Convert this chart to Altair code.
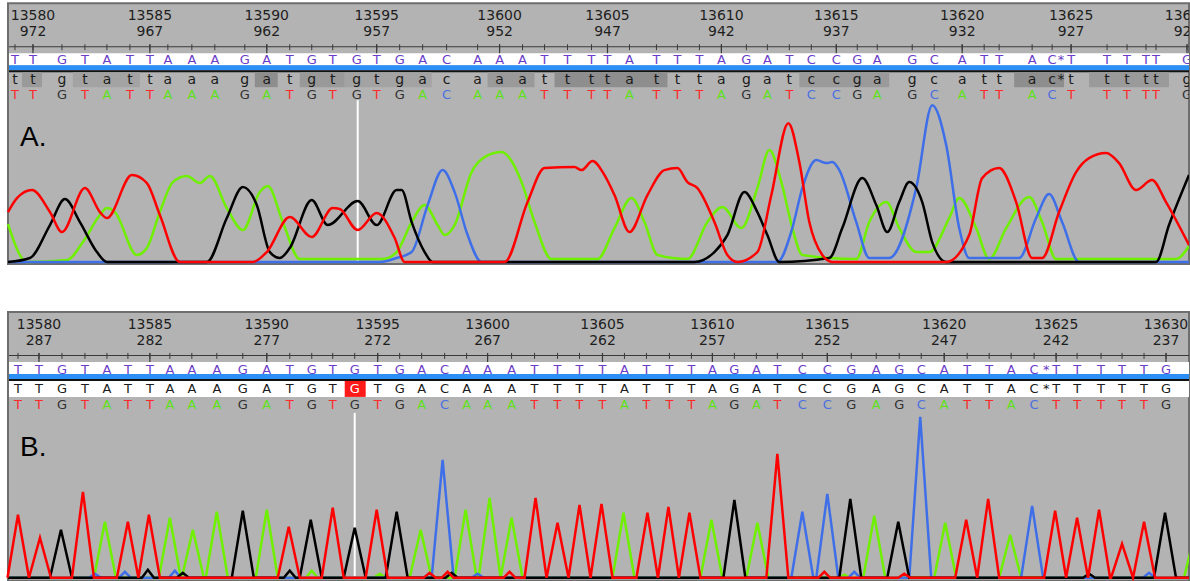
import altair as alt
import pandas as pd

# ---------------- data ----------------
SEQ = list("TTGTATTAAAGATGTGTGACAAATTTTATTTAGATCCGAGCATTACTTTTTG")  # 13579..13630
POS_A = [15, 33, 62, 85, 107, 130, 150, 168, 192, 215, 245, 267, 290, 312, 333, 357, 377, 400, 423, 447,
         478, 500, 523, 545, 568, 592, 608, 630, 657, 678, 700, 722, 747, 768, 790, 812, 837, 858, 878, 913,
         935, 963, 985, 1000, 1033, 1053, 1072, 1108, 1128, 1147, 1157, 1188]
POS_B = [18, 39, 62, 85, 107, 128, 150, 170, 192, 217, 243, 267, 290, 312, 333, 355, 378, 400, 422, 445,
         467, 488, 512, 535, 558, 580, 603, 625, 647, 670, 692, 713, 735, 757, 778, 803, 828, 852, 877, 900,
         922, 945, 968, 990, 1012, 1035, 1057, 1078, 1102, 1123, 1145, 1167]
RULER_TOP = [13580, 13585, 13590, 13595, 13600, 13605, 13610, 13615, 13620, 13625, 13630]
RULER_A = [972, 967, 962, 957, 952, 947, 942, 937, 932, 927, 922]
RULER_B = [287, 282, 277, 272, 267, 262, 257, 252, 247, 242, 237]
STAR_A = 1062
STAR_B = 1047
CURSOR_A = 358
CURSOR_B = 355
HIGHLIGHT_B = 15  # index of the highlighted G in panel B

# quality shading blocks in panel A second row (x from, x to, shade)
BLOCKS_A = [(22, 42, "#9a9a9a"), (73, 140, "#a3a3a3"), (255, 278, "#8e8e8e"), (300, 345, "#999999"),
            (345, 432, "#a3a3a3"), (488, 535, "#9a9a9a"), (555, 668, "#8e8e8e"), (800, 890, "#9a9a9a"),
            (1015, 1065, "#8e8e8e"), (1090, 1170, "#9a9a9a")]

# Panel A traces: (scan position, intensity) vertices
A_RED = [(8, 50), (17, 64), (32, 72), (50, 50), (62, 30), (85, 74), (100, 50), (107, 44), (132, 87), (147, 79),
         (160, 47), (180, 0), (253, 0), (267, 10), (290, 45), (312, 25), (333, 54), (340, 53), (358, 32),
         (377, 49), (395, 24), (405, 0), (505, 0), (528, 60), (545, 94), (575, 95), (582, 92), (593, 101),
         (605, 87), (615, 67), (630, 30), (648, 67), (665, 92), (678, 94), (688, 80), (698, 74), (715, 40),
         (728, 7), (738, 0), (758, 10), (772, 67), (789, 139), (800, 100), (810, 40), (823, 7), (833, 0),
         (947, 0), (970, 27), (983, 84), (1000, 94), (1017, 60), (1033, 4), (1043, 4), (1060, 50), (1077, 90),
         (1090, 104), (1107, 109), (1120, 99), (1137, 72), (1153, 82), (1167, 60), (1190, 17)]
A_GREEN = [(8, 38), (27, 0), (67, 2), (83, 20), (100, 47), (107, 54), (115, 50), (137, 7), (147, 14), (160, 50),
           (173, 80), (187, 86), (200, 79), (210, 86), (227, 54), (243, 32), (260, 70), (268, 76), (283, 40),
           (300, 3), (383, 3), (397, 10), (412, 40), (425, 57), (438, 37), (445, 27), (455, 37), (472, 90),
           (485, 105), (502, 110), (510, 104), (522, 80), (535, 40), (552, 3), (598, 3), (615, 34), (632, 64),
           (645, 40), (658, 7), (688, 3), (708, 40), (723, 55), (742, 34), (758, 74), (770, 112), (782, 80),
           (793, 34), (803, 7), (857, 3), (870, 40), (887, 60), (900, 34), (917, 10), (930, 10), (950, 44),
           (960, 64), (977, 34), (990, 3), (1007, 34), (1030, 65), (1043, 40), (1057, 3), (1177, 3), (1190, 16)]
A_BLACK = [(8, 0), (30, 4), (50, 37), (65, 63), (80, 40), (97, 10), (107, 0), (207, 0), (227, 44), (243, 75),
           (257, 57), (270, 10), (280, 4), (290, 14), (312, 62), (328, 37), (358, 61), (377, 37), (397, 72),
           (402, 72), (412, 40), (425, 10), (433, 0), (695, 0), (715, 10), (728, 27), (745, 70), (758, 50),
           (768, 27), (780, 0), (830, 4), (843, 34), (863, 84), (877, 57), (888, 30), (900, 60), (910, 80),
           (923, 60), (933, 20), (947, 0), (1157, 0), (1170, 37), (1190, 87)]
A_BLUE = [(8, 0), (380, 0), (397, 4), (412, 10), (428, 57), (443, 92), (455, 70), (468, 27), (482, 0), (778, 0),
          (793, 34), (803, 74), (817, 102), (827, 99), (833, 100), (840, 92), (857, 40), (870, 4), (890, 4),
          (917, 74), (933, 157), (947, 117), (960, 34), (970, 4), (1020, 4), (1037, 44), (1050, 68), (1063, 40),
          (1080, 0), (1190, 0)]

# Panel B peaks: (scan position, height)
B_RED = [(18, 63), (40, 40), (83, 86), (128, 56), (149, 63), (289, 51), (333, 70), (377, 68), (536, 80),
         (558, 55), (580, 73), (602, 74), (648, 65), (669, 71), (690, 65), (778, 124), (967, 58), (989, 79),
         (1056, 67), (1078, 60), (1100, 68), (1123, 34), (1145, 56)]
B_GREEN = [(105, 56), (170, 60), (193, 48), (217, 66), (267, 68), (421, 48), (466, 68), (490, 80), (512, 60),
           (624, 65), (712, 58), (758, 55), (875, 62), (946, 55), (1011, 43), (1196, 45)]
B_BLACK = [(61, 48), (243, 67), (311, 58), (355, 50), (397, 66), (735, 78), (851, 79), (899, 56), (1166, 65)]
B_BLUE = [(443, 118), (803, 66), (828, 84), (921, 161), (1033, 72)]
# small baseline bumps in panel B
B_RED_NOISE = [(430, 5), (448, 6), (510, 6), (825, 6), (905, 4)]
B_GREEN_NOISE = [(312, 7), (380, 4), (845, 3)]
B_BLACK_NOISE = [(148, 8), (183, 5), (290, 7), (452, 5), (1090, 4)]
B_BLUE_NOISE = [(95, 4), (125, 6), (175, 7), (478, 4), (855, 6), (1150, 5)]

TRACE_COL = {"A": "#6ef000", "C": "#3f6fe8", "G": "#000000", "T": "#ff0000"}
TEXT_COL = {"A": "#5fe01a", "C": "#4a6fe0", "G": "#303030", "T": "#ff2a2a"}
GRAY = "#b3b3b3"
W = 1190

xs = alt.Scale(domain=[0, W], nice=False, zero=False)
ONE = alt.Data(values=[{"k": 0}])


def box(x1, x2, y1, y2, **mk):
    return alt.Chart(ONE).mark_rect(**mk).encode(
        x=alt.value(x1), x2=alt.value(x2), y=alt.value(y1), y2=alt.value(y2))


def peaks_to_vertices(peaks):
    pts = [(8, 0)]
    for x, h, w in sorted(peaks):
        left = x - w
        if pts[-1][0] >= left:
            pts[-1] = ((pts[-1][0] + left) / 2.0, 0)
        else:
            pts.append((left, 0))
        pts.append((x, h))
        pts.append((x + w, 0))
    if pts[-1][0] < W:
        pts.append((W, 0))
    return pts


def texts(df, y, size, font="DejaVu Sans", **kw):
    return alt.Chart(df).mark_text(font=font, fontSize=size, baseline="middle", align="center",
                                   clip=True, **kw).encode(
        x=alt.X("x:Q", scale=xs, axis=None), y=alt.value(y), text="t:N",
        color=alt.Color("c:N", scale=None))


def panel(pos, ruler2, lay, traces, interp, ydom, height, label, star_x, cursor_x,
          lower_row2, blocks=None, highlight=None):
    L = []
    p0, p1 = lay["panel"]
    L.append(box(8, W, p0, p1, fill=GRAY, stroke="#6e6e6e", strokeWidth=2))
    L.append(box(9, W, lay["white"][0], lay["white"][1], fill="#ffffff"))
    L.append(box(9, W, lay["blue"][0], lay["blue"][1], fill="#2b8ff5"))
    L.append(box(9, W, lay["black"][0], lay["black"][1], fill="#111111"))
    if blocks is None:
        L.append(box(9, W, lay["row2bg"][0], lay["row2bg"][1], fill="#ffffff"))
    else:
        bdf = pd.DataFrame({"x1": [b[0] for b in blocks], "x2": [b[1] for b in blocks],
                            "c": [b[2] for b in blocks]})
        L.append(alt.Chart(bdf).mark_rect().encode(
            x=alt.X("x1:Q", scale=xs, axis=None), x2="x2:Q",
            y=alt.value(lay["row2bg"][0]), y2=alt.value(lay["row2bg"][1]),
            color=alt.Color("c:N", scale=None)))
    if highlight is not None:
        hdf = pd.DataFrame({"x1": [pos[highlight] - 10], "x2": [pos[highlight] + 11]})
        L.append(alt.Chart(hdf).mark_rect(color="#ff1a1a").encode(
            x=alt.X("x1:Q", scale=xs, axis=None), x2="x2:Q",
            y=alt.value(lay["row2bg"][0]), y2=alt.value(lay["row2bg"][1])))
    # ruler
    r = lay["rule"]
    L.append(box(9, W, r, r + 1, fill="#3a3a3a"))
    tdf = pd.DataFrame({"x": pos})
    L.append(alt.Chart(tdf).mark_rule(color="#3a3a3a", strokeWidth=1, clip=True).encode(
        x=alt.X("x:Q", scale=xs, axis=None), y=alt.value(r - 2), y2=alt.value(r + 4)))
    major = [pos[1 + 5 * k] for k in range(len(RULER_TOP))]
    mdf = pd.DataFrame({"x": major})
    L.append(alt.Chart(mdf).mark_rule(color="#3a3a3a", strokeWidth=1.2, clip=True).encode(
        x=alt.X("x:Q", scale=xs, axis=None), y=alt.value(r - 2), y2=alt.value(r + 7)))
    n1 = pd.DataFrame({"x": major, "t": [str(v) for v in RULER_TOP], "c": ["#1e1e1e"] * len(major)})
    n2 = pd.DataFrame({"x": major, "t": [str(v) for v in ruler2], "c": ["#1e1e1e"] * len(major)})
    L.append(texts(n1, lay["num1"], 14))
    L.append(texts(n2, lay["num2"], 14))
    # sequence rows
    r1 = pd.DataFrame({"x": pos + [star_x], "t": SEQ + ["*"], "c": ["#6a3cc8"] * (len(SEQ) + 1)})
    L.append(texts(r1, lay["row1"], 13))
    r2t = [s.lower() for s in SEQ] if lower_row2 else list(SEQ)
    r2c = ["#1a1a1a"] * len(SEQ)
    if highlight is not None:
        r2c[highlight] = "#ffffff"
    r2 = pd.DataFrame({"x": pos + [star_x], "t": r2t + ["*"], "c": r2c + ["#1a1a1a"]})
    L.append(texts(r2, lay["row2"], 14 if lower_row2 else 13))
    r3 = pd.DataFrame({"x": pos, "t": SEQ, "c": [TEXT_COL[s] for s in SEQ]})
    L.append(texts(r3, lay["row3"], 13))
    # label
    L.append(alt.Chart(ONE).mark_text(text=label, font="Liberation Sans", fontSize=28, align="left",
                                      baseline="middle", color="#000000").encode(
        x=alt.value(20), y=alt.value(lay["label"])))
    # cursor
    cdf = pd.DataFrame({"x": [cursor_x]})
    L.append(alt.Chart(cdf).mark_rule(color="#ffffff", strokeWidth=2).encode(
        x=alt.X("x:Q", scale=xs, axis=None), y=alt.value(lay["cursor"][0]), y2=alt.value(lay["cursor"][1])))
    # traces
    ys = alt.Scale(domain=ydom, nice=False, zero=False)
    for base in ["A", "C", "G", "T"]:
        pts = traces[base]
        df = pd.DataFrame({"x": [p[0] for p in pts], "h": [p[1] for p in pts]})
        L.append(alt.Chart(df).mark_line(interpolate=interp, strokeWidth=2.5, clip=True,
                                         color=TRACE_COL[base]).encode(
            x=alt.X("x:Q", scale=xs, axis=None),
            y=alt.Y("h:Q", scale=ys, axis=None),
            order="x:Q"))
    return alt.layer(*L).properties(width=W, height=height)


LAY_A = {"panel": (3, 264), "num1": 16, "num2": 32, "rule": 46, "white": (53, 65), "blue": (65, 70),
         "black": (70, 72), "row1": 60, "row2": 80, "row2bg": (72, 87), "row3": 95, "label": 138,
         "cursor": (100, 262)}
LAY_B = {"panel": (12, 281), "num1": 25, "num2": 41.5, "rule": 55, "white": (62, 74), "blue": (74, 79),
         "black": (79, 81), "row1": 70, "row2": 89, "row2bg": (81, 97), "row3": 105, "label": 148,
         "cursor": (113, 278)}

tr_A = {"A": A_GREEN, "C": A_BLUE, "G": A_BLACK, "T": A_RED}


def with_w(lst, w):
    return [(x, h, w) for x, h in lst]


tr_B = {
    "A": peaks_to_vertices(with_w(B_GREEN, 11) + with_w(B_GREEN_NOISE, 6)),
    "C": peaks_to_vertices(with_w(B_BLUE, 11) + with_w(B_BLUE_NOISE, 6)),
    "G": peaks_to_vertices(with_w(B_BLACK, 11) + with_w(B_BLACK_NOISE, 6)),
    "T": peaks_to_vertices(with_w(B_RED, 11) + with_w(B_RED_NOISE, 6)),
}

pA = panel(POS_A, RULER_A, LAY_A, tr_A, "monotone", [-38, 262], 300, "A.", STAR_A, CURSOR_A,
           lower_row2=True, blocks=BLOCKS_A)
pB = panel(POS_B, RULER_B, LAY_B, tr_B, "linear", [-3, 278], 281, "B.", STAR_B, CURSOR_B,
           lower_row2=False, highlight=HIGHLIGHT_B)

chart = alt.vconcat(pA, pB, spacing=0).properties(
    padding=0, background="#ffffff"
).configure_view(strokeWidth=0)

chart.save("out.html", embed_options={"renderer": "svg", "actions": False})
